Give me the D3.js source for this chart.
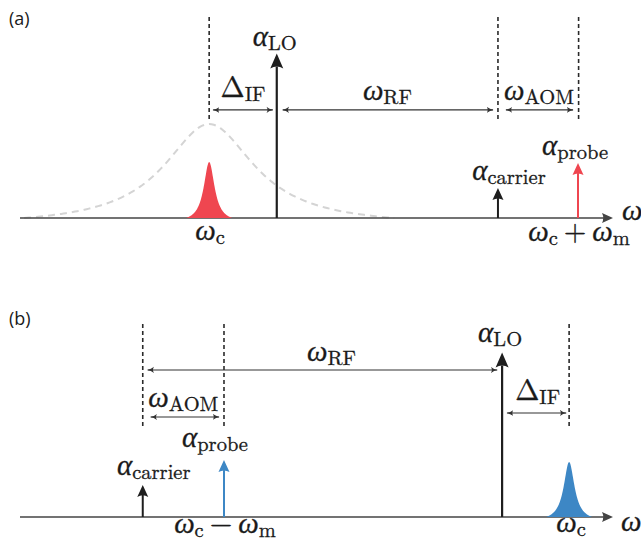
<!DOCTYPE html>
<html>
<head>
<meta charset="utf-8">
<script src="https://cdn.jsdelivr.net/npm/d3@7"></script>
<style>
  body { margin: 0; background: #fff; }
  svg text { fill: #1a1a1a; }
  svg text.m { stroke: #1a1a1a; stroke-width: 0.3; }
</style>
</head>
<body>
<div id="fig"></div>
<script>
// ---- data (frequency in arbitrary units 0..100, amplitude 0..100 = LO) ----
// panel (a): upper sideband
var spikeNamesA = ["LO", "carrier", "probe"];
var spikeFreqA  = [43.3, 80.6, 94.1];
var spikeAmpA   = [100, 18.2, 33.4];
var cavityA     = { freq: 31.9, amp: 34, width: 1.1, cut: 3.9 };
var envelopeA   = { freq: 31.9, amp: 57.1, width: 9.27, cut: 31.2 };

// panel (b): lower sideband
var spikeNamesB = ["carrier", "probe", "LO"];
var spikeFreqB  = [20.7, 34.4, 81.3];
var spikeAmpB   = [19.5, 34.6, 100];
var cavityB     = { freq: 92.6, amp: 33.4, width: 1.1, cut: 3.9 };

var RED = "#ef4650", BLUE = "#3d87c5", INK = "#1e1e1e";
var SERIF = "'Latin Modern Roman', 'CMU Serif', 'Liberation Serif', serif";
var MAIN = 29, SUB = 20.5;

var W = 641, H = 542;
var svg = d3.select("#fig").append("svg").attr("width", W).attr("height", H);

var defs = svg.append("defs");
defs.append("marker").attr("id", "tip")
  .attr("viewBox", "0 -5 10 10").attr("refX", 9).attr("refY", 0)
  .attr("markerWidth", 7).attr("markerHeight", 7).attr("markerUnits", "userSpaceOnUse")
  .attr("orient", "auto-start-reverse")
  .append("path").attr("d", "M0,-4.5 Q4,-1 10,0 Q4,1 0,4.5 Q3,0 0,-4.5 Z").attr("fill", "#333");

var x = d3.scaleLinear().domain([0, 100]).range([20, 613]);

// lorentzian profile, pulled down so it meets the axis at +-cut
function profile(p) {
  var L = function(d) { return 1 / (1 + (d / p.width) * (d / p.width)); };
  var l0 = L(p.cut);
  return d3.range(-p.cut, p.cut + 0.001, p.cut / 80).map(function(d) {
    return [p.freq + d, p.amp * (L(d) - l0) / (1 - l0)];
  });
}

function headPath(cx, tipY, w, len) {
  var p = d3.path();
  p.moveTo(cx, tipY);
  p.lineTo(cx - w / 2, tipY + len);
  p.quadraticCurveTo(cx, tipY + len * 0.72, cx + w / 2, tipY + len);
  p.closePath();
  return p.toString();
}

function mathLabel(g, cx, by, main, sub, anchor, upright) {
  var t = g.append("text").attr("class", "m").attr("font-family", SERIF).attr("x", cx).attr("y", by)
    .attr("text-anchor", anchor || "middle");
  t.append("tspan").attr("font-style", upright ? "normal" : "italic").attr("font-size", MAIN).text(main);
  if (sub) t.append("tspan").attr("font-size", SUB).attr("dy", 4).text(sub);
  return t;
}

function sumLabel(g, cx, by, op, msub) {
  var t = g.append("text").attr("class", "m").attr("font-family", SERIF)
    .attr("x", cx).attr("y", by).attr("text-anchor", "middle");
  t.append("tspan").attr("font-style", "italic").attr("font-size", MAIN).text("ω");
  t.append("tspan").attr("font-size", SUB).attr("dy", 4).text("c");
  t.append("tspan").attr("font-size", MAIN).attr("dy", -4).attr("dx", 6).text(op);
  t.append("tspan").attr("font-style", "italic").attr("font-size", MAIN).attr("dx", 6).text("ω");
  t.append("tspan").attr("font-size", SUB).attr("dy", 4).text(msub);
}

function drawPanel(base, names, freqs, amps, cavity, envelope, color, opts) {
  var y = d3.scaleLinear().domain([0, 100]).range([base, base - 164.5]);
  var g = svg.append("g");
  var line = d3.line().x(function(d) { return x(d[0]); }).y(function(d) { return y(d[1]); });

  if (envelope) {
    g.append("path").attr("d", line(profile(envelope)))
      .attr("fill", "none").attr("stroke", "#d4d4d4").attr("stroke-width", 2)
      .attr("stroke-dasharray", "7,5");
  }

  // axis
  g.append("line").attr("x1", x(0)).attr("x2", x(100) - 6).attr("y1", y(0)).attr("y2", y(0))
    .attr("stroke", "#444").attr("stroke-width", 1.6);
  g.append("path").attr("d", "M" + x(100) + "," + y(0) + " l-11,-5 q2.5,5 0,10 z").attr("fill", "#444");

  // cavity mode
  var area = d3.area().x(function(d) { return x(d[0]); }).y0(y(0)).y1(function(d) { return y(d[1]); });
  g.append("path").attr("d", area(profile(cavity))).attr("fill", color);

  // dashed markers
  opts.dashed.forEach(function(f) {
    g.append("line").attr("x1", x(f)).attr("x2", x(f))
      .attr("y1", y(opts.dashTop)).attr("y2", y(opts.dashBottom))
      .attr("stroke", "#2a2a2a").attr("stroke-width", 1.6).attr("stroke-dasharray", "4,3");
  });

  // spikes
  names.forEach(function(n, i) {
    var c = n === "probe" ? color : INK;
    var big = n === "LO";
    var hl = big ? 15 : 12, hw = big ? 13 : 11;
    g.append("line").attr("x1", x(freqs[i])).attr("x2", x(freqs[i]))
      .attr("y1", y(0)).attr("y2", y(amps[i]) + hl - 2)
      .attr("stroke", c).attr("stroke-width", big ? 2.2 : 2);
    g.append("path").attr("d", headPath(x(freqs[i]), y(amps[i]), hw, hl)).attr("fill", c);
  });

  // double arrows
  opts.spans.forEach(function(s) {
    g.append("line").attr("x1", s[0]).attr("x2", s[1]).attr("y1", y(s[2])).attr("y2", y(s[2]))
      .attr("stroke", "#333").attr("stroke-width", 1.1)
      .attr("marker-start", "url(#tip)").attr("marker-end", "url(#tip)");
  });
  return { g: g, y: y };
}

// ---------- panel (a) ----------
var fa = function(n) { return spikeFreqA[spikeNamesA.indexOf(n)]; };
var pa = drawPanel(218, spikeNamesA, spikeFreqA, spikeAmpA, cavityA, envelopeA, RED, {
  dashed: [cavityA.freq, fa("carrier"), fa("probe") + 0.1],
  dashTop: 122.2, dashBottom: 59,
  spans: [
    [x(cavityA.freq) + 4, x(fa("LO")) - 4, 65.7],
    [x(fa("LO")) + 6, x(fa("carrier")) - 5, 65.7],
    [x(fa("carrier")) + 8, x(fa("probe")) - 5, 65.7]
  ]
});
var ga = pa.g;
ga.append("text").attr("font-family", "'Open Sans', sans-serif").attr("font-size", 18)
  .attr("x", 9).attr("y", 25).text("(a)");
mathLabel(ga, x(fa("LO")) - 2, 46, "α", "LO");
mathLabel(ga, (x(cavityA.freq) + x(fa("LO"))) / 2, 97, "Δ", "IF", null, true);
mathLabel(ga, (x(fa("LO")) + x(fa("carrier"))) / 2, 100, "ω", "RF");
mathLabel(ga, (x(fa("carrier")) + x(fa("probe"))) / 2 + 1, 100, "ω", "AOM");
mathLabel(ga, x(fa("carrier")) + 11, 180, "α", "carrier");
mathLabel(ga, x(fa("probe")) - 3, 155, "α", "probe");
mathLabel(ga, x(cavityA.freq) + 1, 240, "ω", "c");
sumLabel(ga, x(fa("probe")) + 1, 241, "+", "m");
mathLabel(ga, 622, 220, "ω", null, "start");

// ---------- panel (b) ----------
var fb = function(n) { return spikeFreqB[spikeNamesB.indexOf(n)]; };
var pb = drawPanel(517, spikeNamesB, spikeFreqB, spikeAmpB, cavityB, null, BLUE, {
  dashed: [fb("carrier"), fb("probe"), cavityB.freq],
  dashTop: 117.3, dashBottom: 54.7,
  spans: [
    [x(fb("carrier")) + 5, x(fb("LO")) - 5, 89.4],
    [x(fb("carrier")) + 8, x(fb("probe")) - 5, 60.8],
    [x(fb("LO")) + 5, x(cavityB.freq) - 3, 63.2]
  ]
});
var gb = pb.g;
gb.append("text").attr("font-family", "'Open Sans', sans-serif").attr("font-size", 18)
  .attr("x", 9).attr("y", 325).text("(b)");
mathLabel(gb, (x(fb("carrier")) + x(fb("LO"))) / 2 + 9, 361, "ω", "RF");
mathLabel(gb, (x(fb("carrier")) + x(fb("probe"))) / 2, 407, "ω", "AOM");
mathLabel(gb, x(fb("probe")) - 9, 447, "α", "probe");
mathLabel(gb, x(fb("carrier")) + 11, 475, "α", "carrier");
mathLabel(gb, x(fb("LO")) - 2, 342, "α", "LO");
mathLabel(gb, (x(fb("LO")) + x(cavityB.freq)) / 2 + 2, 400, "Δ", "IF", null, true);
mathLabel(gb, x(cavityB.freq) + 2, 532, "ω", "c");
sumLabel(gb, x(fb("probe")) + 1, 533, "−", "m");
mathLabel(gb, 621, 531, "ω", null, "start");
</script>
</body>
</html>
